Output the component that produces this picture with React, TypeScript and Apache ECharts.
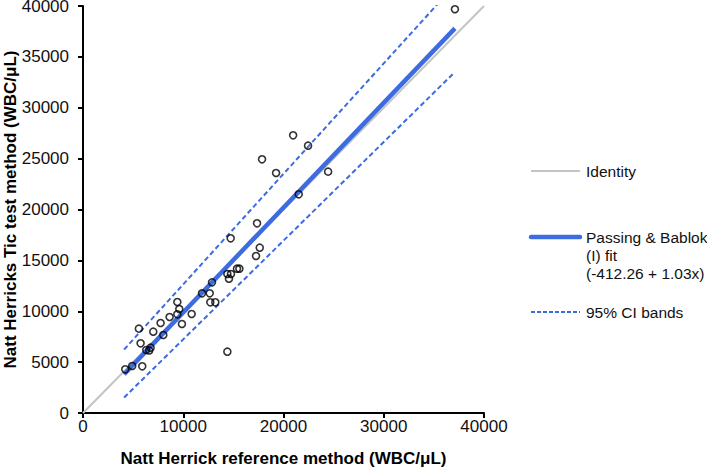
import React, { useEffect, useRef } from "react";
import * as echarts from "echarts";

const refX = [4215, 4910, 5910, 5575, 5745, 6310, 6740, 6600, 7010, 7740, 8010, 8640, 9410, 9605, 9410, 9870, 10840, 11870, 12870, 12640, 12700, 13200, 14400, 14400, 14560, 14760, 15360, 15600, 14730, 17260, 17630, 17360, 17860, 19260, 21520, 24450, 20960, 22450, 37100];
const ticY = [4295, 4620, 4590, 8290, 6850, 6190, 6420, 6150, 7990, 8845, 7665, 9435, 10910, 10220, 9700, 8745, 9730, 11760, 12840, 11760, 10880, 10880, 13660, 6025, 13200, 13660, 14180, 14180, 17170, 15430, 16250, 18640, 24930, 23590, 21490, 23720, 27290, 26270, 39680];

const identityX = [0, 40000];
const identityY = [0, 40000];
const fitX = [4100, 37100];
const fitY = [3810, 37800];
const ciUpperX = [4100, 37100];
const ciUpperY = [6240, 42070];
const ciLowerX = [4100, 37100];
const ciLowerY = [1520, 33520];

const xTitle = "Natt Herrick reference method (WBC/μL)";
const yTitle = "Natt Herricks Tic test method (WBC/μL)";
const legendIdentity = "Identity";
const legendFit = "Passing & Bablok\n(I) fit\n(-412.26 + 1.03x)";
const legendCI = "95% CI bands";

const FONT = "'Liberation Sans', Arial, Helvetica, sans-serif";
const BLUE = "#3d6be0";

const zip = (a: number[], b: number[]) => a.map((v, i) => [v, b[i]]);

export default function App() {
  const ref = useRef<HTMLDivElement>(null);
  useEffect(() => {
    if (!ref.current) return;
    const chart = echarts.init(ref.current, null, { renderer: "svg" });
    chart.setOption({
      animation: false,
      textStyle: { fontFamily: FONT },
      grid: { left: 83, right: 223, top: 6, bottom: 55, containLabel: false, outerBoundsMode: "none" },
      xAxis: {
        type: "value",
        min: 0,
        max: 40000,
        interval: 10000,
        name: xTitle,
        nameLocation: "middle",
        nameGap: 37,
        nameMoveOverlap: false,
        nameTextStyle: { fontSize: 17, fontWeight: "bold", color: "#000", fontFamily: FONT },
        axisLine: { lineStyle: { color: "#000", width: 2 } },
        axisTick: { show: true, length: 5, lineStyle: { color: "#000", width: 2 } },
        axisLabel: { fontSize: 17, color: "#111", margin: 5, fontFamily: FONT, formatter: (v: number) => String(v) },
        splitLine: { show: false },
      },
      yAxis: {
        type: "value",
        min: 0,
        max: 40000,
        interval: 5000,
        name: yTitle,
        nameLocation: "middle",
        nameGap: 64,
        nameMoveOverlap: false,
        nameTextStyle: { fontSize: 17, fontWeight: "bold", color: "#000", fontFamily: FONT },
        axisLine: { show: true, lineStyle: { color: "#000", width: 2 } },
        axisTick: { show: true, length: 5, lineStyle: { color: "#000", width: 2 } },
        axisLabel: { fontSize: 17, color: "#111", margin: 14, fontFamily: FONT, formatter: (v: number) => String(v) },
        splitLine: { show: false },
      },
      series: [
        {
          type: "line",
          data: zip(identityX, identityY),
          symbol: "none",
          lineStyle: { color: "#c4c4c4", width: 2 },
          z: 1,
        },
        {
          type: "line",
          data: zip(fitX, fitY),
          symbol: "none",
          lineStyle: { color: BLUE, width: 4.5 },
          z: 2,
        },
        {
          type: "line",
          data: zip(ciUpperX, ciUpperY),
          symbol: "none",
          lineStyle: { color: BLUE, width: 2, type: [5, 3] },
          z: 2,
        },
        {
          type: "line",
          data: zip(ciLowerX, ciLowerY),
          symbol: "none",
          lineStyle: { color: BLUE, width: 2, type: [5, 3] },
          z: 2,
        },
        {
          type: "scatter",
          data: zip(refX, ticY),
          symbol: "circle",
          symbolSize: 7,
          itemStyle: { color: "rgba(0,0,0,0)", borderColor: "#000", borderWidth: 1.6 },
          z: 5,
        },
      ],
      graphic: [
        { type: "line", shape: { x1: 531, y1: 171, x2: 580, y2: 171 }, style: { stroke: "#c4c4c4", lineWidth: 2 } },
        { type: "text", x: 586, y: 171, style: { text: legendIdentity, font: `15.5px ${FONT}`, fill: "#111", verticalAlign: "middle" } },
        { type: "line", shape: { x1: 531, y1: 237, x2: 580, y2: 237 }, style: { stroke: BLUE, lineWidth: 4.5, lineCap: "round" } },
        { type: "text", x: 586, y: 228, style: { text: legendFit, font: `15.5px ${FONT}`, lineHeight: 18, fill: "#111", verticalAlign: "top" } },
        { type: "line", shape: { x1: 531, y1: 312, x2: 580, y2: 312 }, style: { stroke: BLUE, lineWidth: 1.8, lineDash: [4, 2] } },
        { type: "text", x: 586, y: 312, style: { text: legendCI, font: `15.5px ${FONT}`, fill: "#111", verticalAlign: "middle" } },
      ],
    });
    return () => chart.dispose();
  }, []);
  return <div ref={ref} style={{ width: 707, height: 468, position: "absolute", left: 0, top: 0 }} />;
}
